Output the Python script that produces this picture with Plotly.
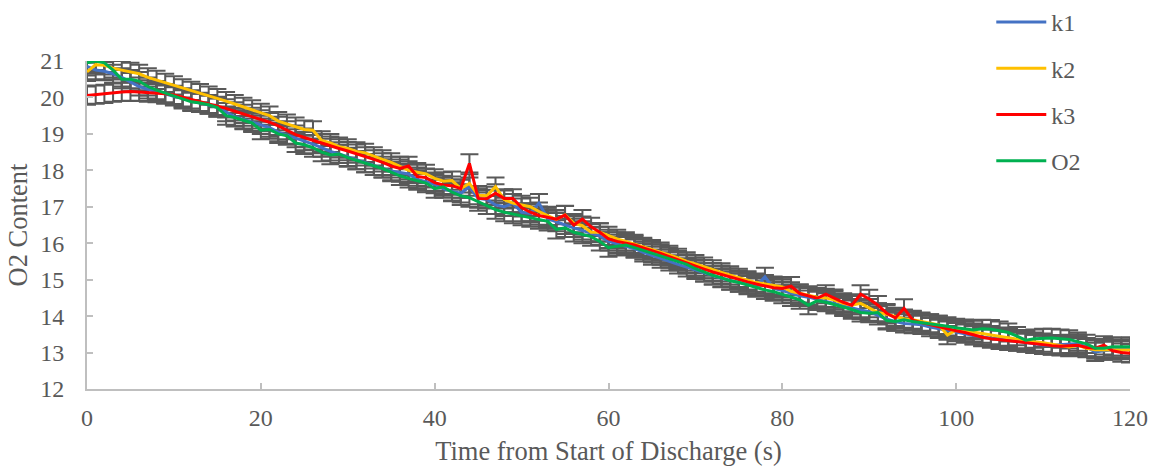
import plotly.graph_objects as go

time_s = list(range(0, 121))

k1 = [20.85, 20.75, 20.72, 20.65, 20.55, 20.42, 20.3, 20.22, 20.15, 20.08,
      20.03, 19.98, 19.9, 19.85, 19.8, 19.73, 19.6, 19.47, 19.4, 19.33,
      19.25, 19.17, 19.05, 18.97, 18.88, 18.8, 18.72, 18.62, 18.52, 18.45,
      18.37, 18.28, 18.2, 18.12, 18.05, 17.98, 17.94, 17.9, 17.75, 17.69,
      17.62, 17.5, 17.42, 17.37, 17.55, 17.23, 17.2, 17.05, 17.0, 17.1,
      16.85, 16.82, 17.1, 16.68, 16.58, 16.5, 16.42, 16.35, 16.28, 16.2,
      16.05, 15.98, 15.92, 15.85, 15.75, 15.66, 15.58, 15.5, 15.42, 15.34,
      15.27, 15.2, 15.12, 15.04, 14.98, 14.92, 14.87, 14.82, 15.08, 14.76,
      14.7, 14.62, 14.56, 14.52, 14.45, 14.4, 14.35, 14.28, 14.22, 14.17,
      14.12, 14.02, 13.92, 13.85, 13.8, 13.78, 13.76, 13.7, 13.65, 13.6,
      13.56, 13.52, 13.47, 13.43, 13.4, 13.37, 13.32, 13.3, 13.27, 13.24,
      13.21, 13.2, 13.22, 13.24, 13.25, 13.15, 13.02, 13.05, 13.08, 13.1,
      13.1]

k2 = [20.7, 20.9, 20.88, 20.8, 20.75, 20.7, 20.65, 20.55, 20.48, 20.4,
      20.33, 20.25, 20.18, 20.12, 20.05, 19.98, 19.9, 19.82, 19.74, 19.67,
      19.58, 19.5, 19.35, 19.28, 19.2, 19.12, 19.1, 18.82, 18.75, 18.65,
      18.6, 18.52, 18.48, 18.38, 18.3, 18.22, 18.12, 18.0, 17.95, 17.9,
      17.78, 17.7, 17.72, 17.5, 17.64, 17.32, 17.3, 17.55, 17.2, 17.1,
      17.05, 17.0, 16.87, 16.75, 16.65, 16.78, 16.55, 16.48, 16.3, 16.3,
      16.2, 16.12, 16.05, 15.98, 15.9, 15.84, 15.77, 15.68, 15.6, 15.5,
      15.43, 15.36, 15.28, 15.2, 15.12, 15.05, 14.98, 14.92, 14.88, 14.84,
      14.8, 14.68, 14.62, 14.57, 14.52, 14.5, 14.44, 14.35, 14.3, 14.35,
      14.22, 14.1, 14.05, 13.98, 13.93, 13.9, 13.85, 13.8, 13.76, 13.48,
      13.62, 13.6, 13.55, 13.52, 13.48, 13.44, 13.4, 13.37, 13.34, 13.3,
      13.27, 13.23, 13.18, 13.15, 13.2, 13.12, 13.08, 13.07, 13.07, 13.07,
      13.07]

k3 = [20.05, 20.08, 20.1, 20.13, 20.15, 20.16, 20.15, 20.13, 20.12, 20.1,
      20.07, 20.0, 19.95, 19.88, 19.82, 19.77, 19.7, 19.62, 19.55, 19.47,
      19.4, 19.32, 19.22, 19.1, 18.98, 18.9, 18.82, 18.75, 18.68, 18.6,
      18.53, 18.46, 18.38, 18.3, 18.22, 18.12, 18.05, 18.12, 17.83, 17.8,
      17.66, 17.6, 17.58, 17.5, 18.19, 17.23, 17.22, 17.37, 17.23, 17.23,
      16.98, 16.85, 16.76, 16.72, 16.66, 16.77, 16.5, 16.66, 16.45, 16.3,
      16.12, 16.05, 16.0, 15.95, 15.87, 15.8, 15.72, 15.63, 15.54, 15.45,
      15.36, 15.29, 15.21, 15.14, 15.06, 15.0, 14.94, 14.88, 14.82, 14.78,
      14.76, 14.82, 14.62, 14.55, 14.49, 14.6, 14.48, 14.38, 14.3, 14.6,
      14.47, 14.3, 14.08, 13.95, 14.21, 13.89, 13.82, 13.76, 13.7, 13.64,
      13.6, 13.55, 13.48, 13.42, 13.38, 13.35, 13.32, 13.3, 13.27, 13.24,
      13.21, 13.19, 13.17, 13.18, 13.2, 13.14, 13.12, 13.2, 13.05, 13.0,
      12.98]

o2 = [20.95, 21.0, 20.95, 20.75, 20.5, 20.5, 20.45, 20.3, 20.2, 20.12,
      20.05, 19.95, 19.88, 19.85, 19.8, 19.72, 19.5, 19.45, 19.38, 19.3,
      19.1, 19.12, 19.0, 18.95, 18.75, 18.7, 18.62, 18.5, 18.42, 18.45,
      18.35, 18.28, 18.2, 18.12, 18.05, 17.95, 17.85, 17.78, 17.72, 17.65,
      17.5, 17.55, 17.4, 17.3, 17.25, 17.14, 17.05, 16.92, 16.85, 16.8,
      16.74, 16.7, 16.65, 16.6, 16.38, 16.42, 16.3, 16.25, 16.18, 16.05,
      15.88, 15.92, 15.95, 15.88, 15.8, 15.72, 15.66, 15.58, 15.5, 15.42,
      15.3, 15.2, 15.12, 15.05, 14.97, 14.92, 14.85, 14.78, 14.72, 14.67,
      14.6, 14.53, 14.45, 14.3, 14.42, 14.38, 14.32, 14.25, 14.18, 14.1,
      14.08, 14.1, 13.88, 13.85, 13.9, 13.85, 13.82, 13.8, 13.76, 13.72,
      13.68, 13.66, 13.62, 13.65, 13.64, 13.6, 13.55, 13.45, 13.34, 13.38,
      13.4, 13.4, 13.38, 13.36, 13.3, 13.24, 13.12, 13.12, 13.16, 13.16,
      13.16]

err = 0.25

series_names = ["k1", "k2", "k3", "O2"]
series_values = [k1, k2, k3, o2]
series_colors = ["#4472C4", "#FFC000", "#FF0000", "#00B050"]

FONT = "Liberation Serif, Times New Roman, serif"
TXT = "#595959"

fig = go.Figure()
# error bars first (underneath all lines)
for name, vals in zip(series_names, series_values):
    fig.add_trace(go.Scatter(
        x=time_s, y=vals, mode="markers", showlegend=False, hoverinfo="skip",
        marker=dict(size=1, opacity=0),
        error_y=dict(type="constant", value=err, color="#595959",
                     thickness=2, width=9),
    ))
for name, vals, col in zip(series_names, series_values, series_colors):
    fig.add_trace(go.Scatter(
        x=time_s, y=vals, name=name, mode="lines",
        line=dict(color=col, width=3),
        legendgroup=name,
    ))

fig.update_layout(
    width=1153, height=471,
    margin=dict(l=87, r=23, t=61, b=82, autoexpand=False),
    paper_bgcolor="white", plot_bgcolor="white",
    font=dict(family=FONT, color=TXT, size=24),
    showlegend=True,
    legend=dict(x=0.867, y=1.0, xanchor="left", yanchor="top",
                yref="container",
                font=dict(size=24, color=TXT, family=FONT),
                tracegroupgap=12, itemwidth=50,
                bgcolor="rgba(0,0,0,0)"),
    xaxis=dict(range=[0, 120], tickvals=[0, 20, 40, 60, 80, 100, 120],
               showline=True, linecolor="#BFBFBF", linewidth=2,
               ticks="inside", ticklen=6, tickcolor="#BFBFBF", tickwidth=1.5,
               showgrid=False, zeroline=False,
               tickfont=dict(size=24, color=TXT, family=FONT),
               ticklabelstandoff=6,
               title=dict(text="Time from Start of Discharge (s)",
                          font=dict(size=26.5, color=TXT, family=FONT),
                          standoff=12)),
    yaxis=dict(range=[12, 21], dtick=1,
               showline=True, linecolor="#BFBFBF", linewidth=2,
               ticks="inside", ticklen=6, tickcolor="#BFBFBF", tickwidth=1.5,
               showgrid=False, zeroline=False,
               tickfont=dict(size=24, color=TXT, family=FONT),
               ticklabelstandoff=16,
               title=dict(text="O2 Content",
                          font=dict(size=26.5, color=TXT, family=FONT),
                          standoff=5)),
)

fig.write_html("out.html")
